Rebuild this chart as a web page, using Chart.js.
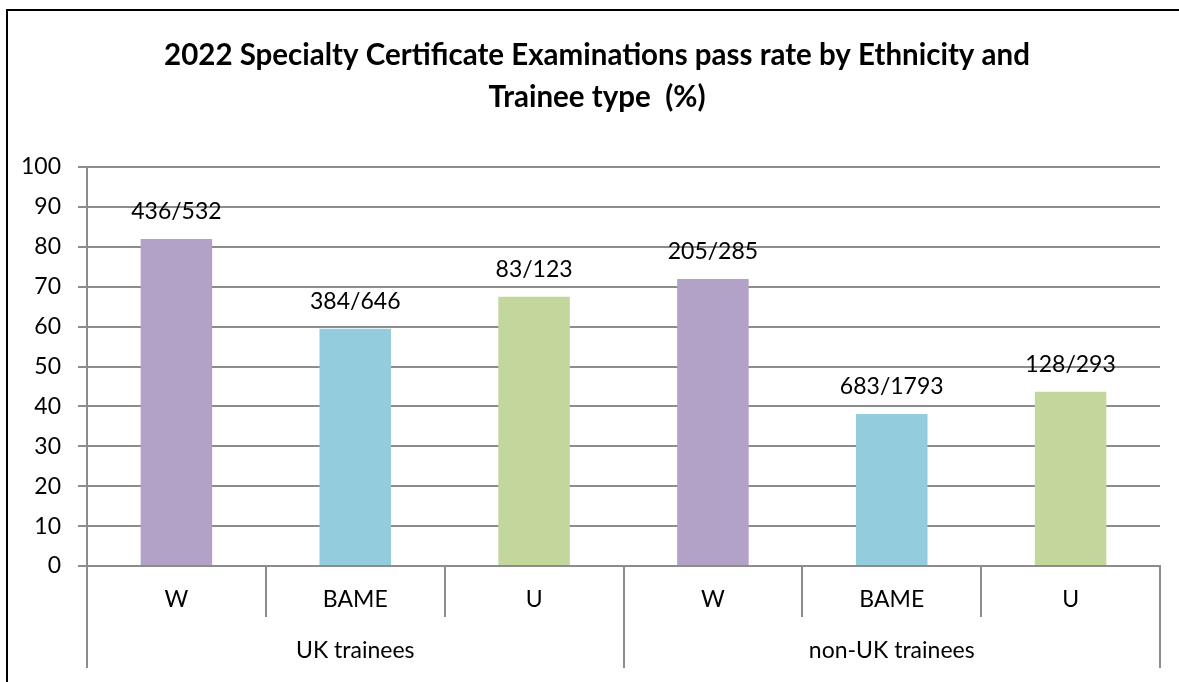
<!DOCTYPE html>
<html>
<head>
<meta charset="utf-8">
<script src="https://cdn.jsdelivr.net/npm/chart.js@4/dist/chart.umd.min.js"></script>
<style>
  html, body { margin: 0; padding: 0; background: #fff; overflow: hidden; width: 1179px; height: 682px; }
  #frame { position: absolute; left: 6px; top: 9px; width: 1300px; height: 800px; border: 2px solid #000; box-sizing: border-box; }
  #wrap { position: absolute; left: 0; top: 0; width: 1194px; height: 682px; }
</style>
</head>
<body>
<div id="frame"></div>
<div id="wrap"><canvas id="c" width="1194" height="682"></canvas></div>
<script>
const titleLines = ['2022 Specialty Certificate Examinations pass rate by Ethnicity and', 'Trainee type  (%)'];
const categories = ['W', 'BAME', 'U', 'W', 'BAME', 'U'];
const groups = ['UK trainees', 'non-UK trainees'];
const passRates = [81.95, 59.44, 67.48, 71.93, 38.09, 43.69];
const barLabels = ['436/532', '384/646', '83/123', '205/285', '683/1793', '128/293'];
const barColors = ['#B2A2C7', '#93CDDD', '#C3D69B', '#B2A2C7', '#93CDDD', '#C3D69B'];
const yTicks = [0, 10, 20, 30, 40, 50, 60, 70, 80, 90, 100];

const FONT = 'Lato';
const gridColor = '#8c8c8c';

const labelPlugin = {
  id: 'barLabels',
  afterLayout(chart) {
    // centre the title over the framed chart box
    if (chart.titleBlock) {
      chart.titleBlock.left = 34;
      chart.titleBlock.right = 1160;
    }
  },
  afterDatasetsDraw(chart) {
    const ctx = chart.ctx;
    const meta = chart.getDatasetMeta(0);
    ctx.save();
    ctx.font = '23px ' + FONT;
    ctx.fillStyle = '#000';
    ctx.textAlign = 'center';
    ctx.textBaseline = 'middle';
    meta.data.forEach((bar, i) => {
      ctx.fillText(barLabels[i], bar.x, bar.y - 27);
    });
    ctx.restore();
  }
};

new Chart(document.getElementById('c'), {
  type: 'bar',
  data: {
    labels: categories,
    datasets: [{
      data: passRates,
      backgroundColor: barColors,
      borderWidth: 0,
      categoryPercentage: 1,
      barPercentage: 0.4,
      xAxisID: 'x',
      yAxisID: 'y'
    }]
  },
  options: {
    responsive: false,
    animation: false,
    layout: { padding: { left: 0, right: 34, top: 0, bottom: 14 } },
    plugins: {
      legend: { display: false },
      tooltip: { enabled: false },
      title: {
        display: true,
        text: titleLines,
        color: '#000',
        font: { family: FONT, size: 29.5, weight: 'bold', lineHeight: '42px' },
        padding: { top: 34, bottom: 49 }
      }
    },
    scales: {
      y: {
        min: 0, max: 100,
        afterBuildTicks: s => { s.ticks = yTicks.map(v => ({ value: v })); },
        afterFit: s => { s.width = 87; },
        ticks: { color: '#000', font: { family: FONT, size: 23 }, padding: 17 },
        grid: { color: gridColor, lineWidth: 2, tickLength: 9, drawTicks: true },
        border: { color: gridColor, width: 2 }
      },
      x: {
        position: 'bottom',
        weight: 1,
        offset: true,
        afterFit: s => { s.height = 47; },
        ticks: { color: '#000', font: { family: FONT, size: 23 }, padding: -31, maxRotation: 0, autoSkip: false },
        grid: { offset: true, drawOnChartArea: false, color: gridColor, lineWidth: 2, tickLength: 51 },
        border: { color: gridColor, width: 2 }
      },
      x2: {
        type: 'category',
        labels: groups,
        position: 'bottom',
        weight: 2,
        offset: true,
        afterFit: s => { s.height = 55; },
        ticks: { color: '#000', font: { family: FONT, size: 23 }, padding: -31, maxRotation: 0, autoSkip: false },
        grid: { offset: true, drawOnChartArea: false, color: gridColor, lineWidth: 2, tickLength: 55 },
        border: { display: false }
      }
    }
  },
  plugins: [labelPlugin]
});
</script>
</body>
</html>
